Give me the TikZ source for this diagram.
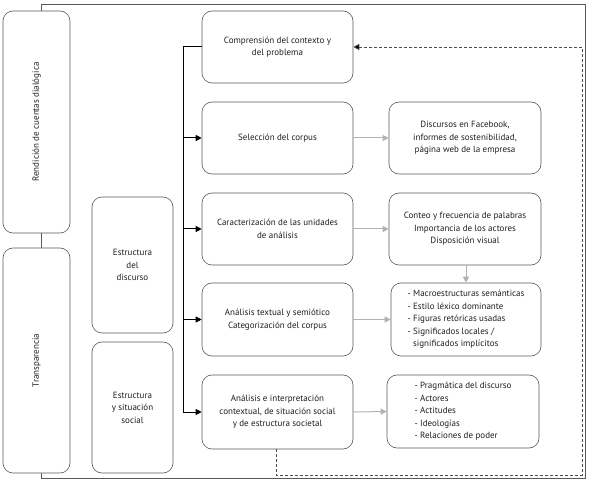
\documentclass[tikz,border=0pt]{standalone}
\usepackage{fontspec}
\setmainfont{PT Sans}
\usetikzlibrary{arrows.meta,calc}
\begin{document}
\begin{tikzpicture}[x=1pt,y=-1pt,
  every node/.style={font=\fontsize{9}{12.5}\selectfont, text=black!88},
  rbox/.style={draw=black!65, line width=0.6pt, rounded corners=10pt, fill=white, align=center, inner sep=2pt},
  blk/.style={draw=black, line width=1pt},
  blkarrow/.style={blk, -{Triangle[length=6pt,width=6pt]}},
  garrow/.style={draw=black!30, line width=1pt, -{Triangle[length=6pt,width=6pt]}},
  dasharrow/.style={draw=black!70, line width=0.7pt, dash pattern=on 3pt off 2pt, -{Triangle[length=6pt,width=6pt,fill=black]}}
]
\useasboundingbox (0,0) rectangle (590,484);
% outer frame
\draw[draw=black!65, line width=0.7pt] (41,4) rectangle (585,478);
% left boxes
\node[rbox, minimum width=67pt, minimum height=222pt] (rend) at (36.5,122) {};
\node[rotate=90] at (rend.center) {Rendición de cuentas dialógica};
\node[rbox, minimum width=67pt, minimum height=225pt] (trans) at (36.5,360.5) {};
\node[rotate=90] at (trans.center) {Transparencia};
% middle boxes
\node[rbox, minimum width=81pt, minimum height=136pt] (ed) at (132.5,265) {Estructura\\del\\discurso};
\node[rbox, minimum width=81pt, minimum height=131pt] (es) at (132.5,407.5) {Estructura\\y situación\\social};
% step boxes
\node[rbox, minimum width=151pt, minimum height=72pt] (s1) at (277.5,47) {Comprensión del contexto y\\del problema};
\node[rbox, minimum width=151pt, minimum height=72pt] (s2) at (277.5,138) {Selección del corpus};
\node[rbox, minimum width=151pt, minimum height=72pt] (s3) at (277.5,229) {Caracterización de las unidades\\de análisis};
\node[rbox, minimum width=151pt, minimum height=73pt] (s4) at (277.5,319.5) {Análisis textual y semiótico\\Categorización del corpus};
\node[rbox, minimum width=151pt, minimum height=74pt] (s5) at (277.5,412) {Análisis e interpretación\\contextual, de situación social\\y de estructura societal};
% right boxes
\node[rbox, minimum width=152pt, minimum height=72pt] (r1) at (465,138) {Discursos en Facebook,\\informes de sostenibilidad,\\página web de la empresa};
\node[rbox, minimum width=152pt, minimum height=72pt] (r2) at (465,229) {Conteo y frecuencia de palabras\\Importancia de los actores\\Disposición visual};
\node[rbox, minimum width=150pt, minimum height=73pt, align=left] (r3) at (466,319.5) {- Macroestructuras semánticas\\- Estilo léxico dominante\\- Figuras retóricas usadas\\- Significados locales /\\\phantom{-} significados implícitos};
\node[rbox, minimum width=152pt, minimum height=73pt, align=left] (r4) at (463,411.5) {- Pragmática del discurso\\- Actores\\- Actitudes\\- Ideologías\\- Relaciones de poder};
% black trunk and arrows
\coordinate (trTop) at (183,47);
\coordinate (trBot) at (183,412);
\draw[blk] (s1.west) -- (trTop) -- (trBot);
\draw[blkarrow] (trTop |- s2.west) -- (s2.west);
\draw[blkarrow] (trTop |- s3.west) -- (s3.west);
\draw[blkarrow] (trTop |- s4.west) -- (s4.west);
\draw[blkarrow] (trBot) -- (s5.west);
% gray arrows
\draw[garrow] (s2.east) -- (r1.west);
\draw[garrow] (s3.east) -- (r2.west);
\draw[garrow] (s4.east) -- (r3.west);
\draw[garrow] (s5.east) -- (r4.west);
\draw[garrow] (r3.north |- r2.south) -- (r3.north);
% dashed feedback
\coordinate (d1) at (276,475);
\coordinate (d2) at (582,475);
\coordinate (d3) at (582,47);
\draw[dasharrow] (d1 |- s5.south) -- (d1) -- (d2) -- (d3) -- (s1.east);
\end{tikzpicture}
\end{document}
